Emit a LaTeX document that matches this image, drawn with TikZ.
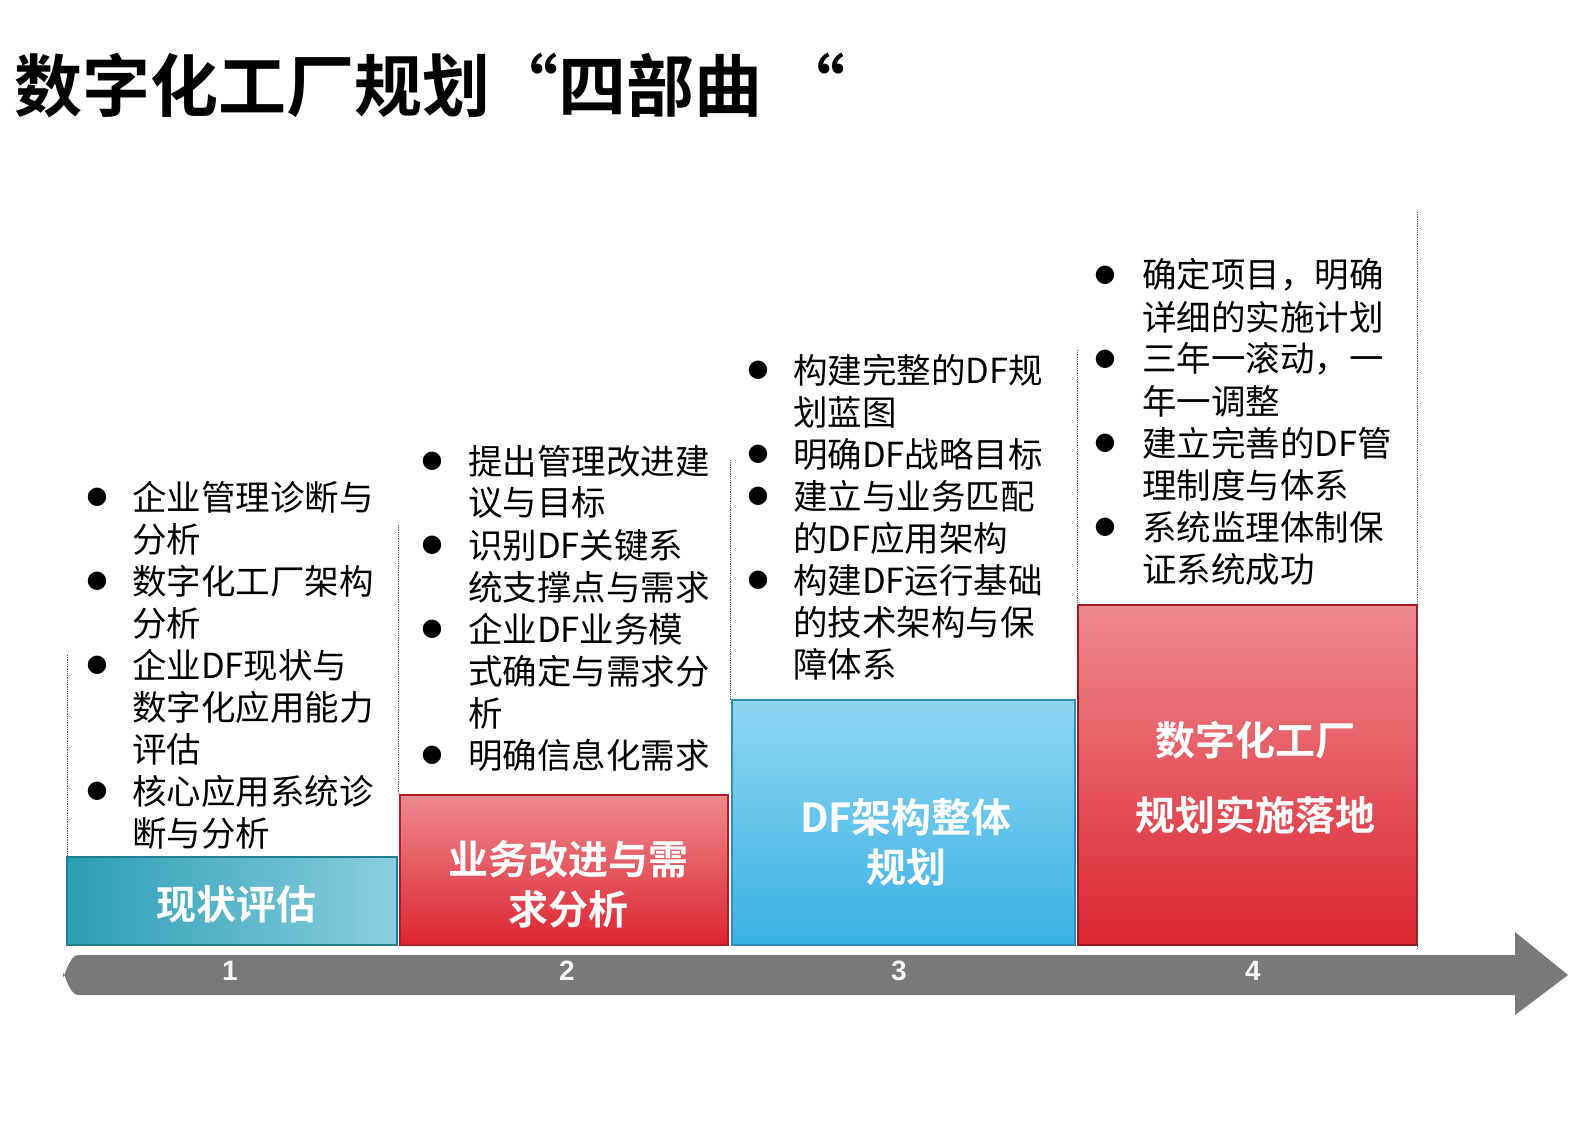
\documentclass[tikz,border=0pt]{standalone}
\usepackage{fontspec}
\setmainfont{Noto Sans CJK SC}
\newfontfamily\boldcjk{Noto Sans CJK SC Bold}
\newfontfamily\bul{DejaVu Sans}
\newfontfamily\numf{Liberation Sans}
\definecolor{tealA}{HTML}{2A9DB5}\definecolor{tealB}{HTML}{8ACFDD}
\definecolor{redA}{HTML}{DC2530}\definecolor{redB}{HTML}{EE8A90}
\definecolor{blueA}{HTML}{3AB1E4}\definecolor{blueB}{HTML}{8ED6F2}
\begin{document}
\begin{tikzpicture}[x=1pt,y=-1pt,
  txt/.style={anchor=west,font=\fontsize{34.5}{40}\selectfont,inner sep=0},
  bl/.style={anchor=center,font=\bul\fontsize{24}{24}\selectfont,inner sep=0},
  boxt/.style={text=white,font=\boldcjk\fontsize{40}{50}\selectfont,align=center,
     inner sep=0},
  dots/.style={densely dotted,gray!70!black,line width=0.8pt},
  num/.style={text=white!92!gray,font=\numf\bfseries\fontsize{28}{28}\selectfont}]
\node[anchor=west,inner sep=0,font=\boldcjk\fontsize{68}{70}\selectfont] (title) at (14,85) {数字化工厂规划“四部曲 “};
% arrow
\fill[gray!95!black] (63,975) to[out=-90,in=180] (78,955) -- (1515,955) -- (1515,932) -- (1568,975) -- (1515,1015) -- (1515,995) -- (78,995) to[out=180,in=90] (63,975) -- cycle;
\node[num] (n1) at (230,971) {1};
\node[num] (n2) at (567,971) {2};
\node[num] (n3) at (899,971) {3};
\node[num] (n4) at (1253,971) {4};
% boxes
\shade[left color=tealA,right color=tealB,draw=tealA!80!black,line width=1.5pt] (67,857) rectangle (397,945);
\shade[bottom color=redA,top color=redB,draw=redA!80!black,line width=1.5pt] (400,795) rectangle (728,945);
\shade[bottom color=blueA,top color=blueB,draw=blueA!80!black,line width=1.5pt] (732,700) rectangle (1075,945);
\shade[bottom color=redA,top color=redB,draw=redA!70!black,line width=1.5pt] (1078,605) rectangle (1417,945);
\node[boxt] (b1) at (236,904) {现状评估};
\node[boxt] (b2) at (568,884) {业务改进与需\\求分析};
\node[boxt] (b3) at (906,842) {DF架构整体\\规划};
\node[boxt] (b4a) at (1255,740) {数字化工厂};
\node[boxt] (b4b) at (1255,815) {规划实施落地};
% dotted
\draw[dots] (67,655) -- (67,857);
\draw[dots] (398,525) -- (398,795);
\draw[dots] (730,460) -- (730,700);
\draw[dots] (1077,350) -- (1077,605);
\draw[dots] (1417,212) -- (1417,950);
% column 1
\foreach \t [count=\i] in {企业管理诊断与,分析,数字化工厂架构,分析,企业DF现状与,数字化应用能力,评估,核心应用系统诊,断与分析}
  \node[txt] (c1l\i) at (132,{497+42*(\i-1)}) {\t};
\foreach \i in {1,3,5,8} \node[bl] (c1b\i) at (97,{497+42*(\i-1)}) {●};
% column 2
\foreach \t [count=\i] in {提出管理改进建,议与目标,识别DF关键系,统支撑点与需求,企业DF业务模,式确定与需求分,析,明确信息化需求}
  \node[txt] (c2l\i) at (468,{461+42*(\i-1)}) {\t};
\foreach \i in {1,3,5,8} \node[bl] (c2b\i) at (432,{461+42*(\i-1)}) {●};
% column 3
\foreach \t [count=\i] in {构建完整的DF规,划蓝图,明确DF战略目标,建立与业务匹配,的DF应用架构,构建DF运行基础,的技术架构与保,障体系}
  \node[txt] (c3l\i) at (793,{370+42*(\i-1)}) {\t};
\foreach \i in {1,3,4,6} \node[bl] (c3b\i) at (758,{370+42*(\i-1)}) {●};
% column 4
\foreach \t [count=\i] in {确定项目，明确,详细的实施计划,三年一滚动，一,年一调整,建立完善的DF管,理制度与体系,系统监理体制保,证系统成功}
  \node[txt] (c4l\i) at (1142,{275+42*(\i-1)}) {\t};
\foreach \i in {1,3,5,7} \node[bl] (c4b\i) at (1105,{275+42*(\i-1)}) {●};
\pgfresetboundingbox
\useasboundingbox (0,0) rectangle (1587,1134);
\end{tikzpicture}
\end{document}
